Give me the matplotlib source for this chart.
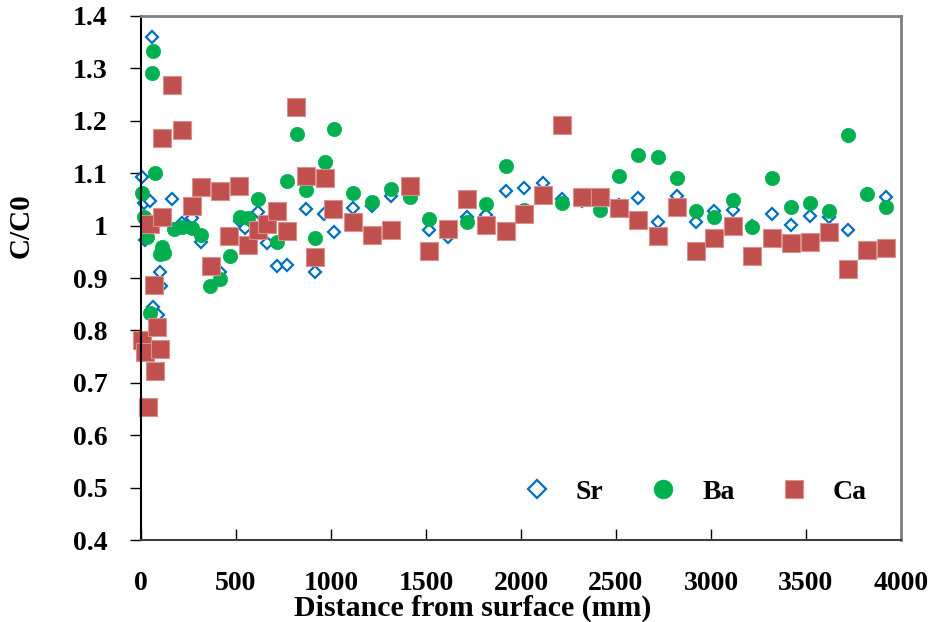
import matplotlib
matplotlib.use("Agg")
import matplotlib.pyplot as plt

plt.rcParams['font.family'] = ['Liberation Serif', 'DejaVu Serif']
plt.rcParams['font.weight'] = 'bold'

# distance from surface (mm) and C/C0
sr_x = [5, 14, 49, 58, 23, 102, 105, 65, 90, 165, 218, 267, 316, 416, 521, 547,
        616, 663, 714, 766, 867, 916, 965, 1016, 1117, 1217, 1316, 1416, 1518,
        1618, 1718, 1816, 1919, 2017, 2117, 2217, 2319, 2416, 2518, 2617, 2719,
        2819, 2919, 3017, 3117, 3217, 3319, 3419, 3521, 3621, 3719, 3819, 3921]
sr_y = [1.093, 1.044, 1.046, 1.36, 0.973, 0.911, 0.885, 0.844, 0.829, 1.050,
        1.005, 1.014, 0.969, 0.912, 1.009, 0.995, 1.025, 0.966, 0.923, 0.925,
        1.031, 0.911, 1.023, 0.988, 1.033, 1.038, 1.057, 1.06, 0.992, 0.979,
        1.017, 1.020, 1.066, 1.071, 1.081, 1.050, 1.046, 1.05, 1.04, 1.052,
        1.006, 1.057, 1.007, 1.027, 1.030, 1.0, 1.023, 1.002, 1.018, 1.017,
        0.992, 1.06, 1.054]

ba_x = [5, 14, 32, 49, 56, 65, 75, 102, 110, 120, 172, 216, 267, 316, 365, 416,
        467, 521, 565, 617, 714, 767, 819, 867, 916, 966, 1017, 1117, 1217,
        1316, 1416, 1518, 1618, 1718, 1816, 1919, 2017, 2117, 2217, 2319, 2416,
        2518, 2617, 2719, 2819, 2919, 3017, 3117, 3217, 3319, 3419, 3521, 3621,
        3719, 3819, 3921]
ba_y = [1.063, 1.016, 0.978, 0.834, 1.291, 1.333, 1.100, 0.946, 0.959, 0.947,
        0.994, 0.997, 0.996, 0.983, 0.885, 0.898, 0.942, 1.017, 1.014, 1.050,
        0.968, 1.086, 1.175, 1.068, 0.977, 1.121, 1.184, 1.062, 1.045, 1.070,
        1.055, 1.012, 0.99, 1.007, 1.041, 1.114, 1.03, 1.06, 1.043, 1.05,
        1.030, 1.095, 1.135, 1.130, 1.090, 1.028, 1.017, 1.048, 0.998, 1.091,
        1.036, 1.044, 1.028, 1.173, 1.060, 1.036]

ca_x = [5, 23, 35, 49, 66, 75, 87, 102, 110, 109, 165, 217, 267, 316, 367, 416,
        465, 516, 565, 617, 665, 714, 767, 814, 867, 916, 968, 1012, 1117, 1217,
        1316, 1416, 1518, 1618, 1718, 1816, 1919, 2017, 2117, 2217, 2319, 2416,
        2518, 2617, 2719, 2819, 2919, 3017, 3117, 3217, 3319, 3419, 3521, 3621,
        3719, 3819, 3921]
ca_y = [0.782, 0.759, 0.654, 1.004, 0.886, 0.723, 0.807, 0.765, 1.017, 1.168,
        1.268, 1.182, 1.037, 1.074, 0.923, 1.066, 0.981, 1.076, 0.963, 0.992,
        1.004, 1.027, 0.990, 1.226, 1.095, 0.941, 1.090, 1.032, 1.006, 0.982,
        0.992, 1.076, 0.952, 0.993, 1.051, 1.001, 0.990, 1.022, 1.058, 1.192,
        1.055, 1.055, 1.033, 1.011, 0.980, 1.036, 0.952, 0.977, 0.999, 0.942,
        0.977, 0.966, 0.969, 0.988, 0.917, 0.954, 0.958]

fig = plt.figure(figsize=(9.36, 6.22), dpi=100)
ax = fig.add_axes([0.1506, 0.1318, 0.8120, 0.8425])

ax.plot(sr_x, sr_y, linestyle='none', marker='D', markersize=6.6,
        markerfacecolor='white', markeredgecolor='#0070C0', markeredgewidth=1.6,
        label='Sr', clip_on=False)
ax.plot(ba_x, ba_y, linestyle='none', marker='o', markersize=10.3,
        markerfacecolor='#00B050', markeredgecolor='#00B050', markeredgewidth=0.5,
        label='Ba', clip_on=False)
ax.plot(ca_x, ca_y, linestyle='none', marker='s', markersize=13.5,
        markerfacecolor='#C0504D', markeredgecolor='#D9908E', markeredgewidth=0.8,
        label='Ca', clip_on=False)

ax.set_xlim(0, 4000)
ax.set_ylim(0.4, 1.4)
ax.set_xticks(range(0, 4001, 500))
ax.set_yticks([0.4, 0.5, 0.6, 0.7, 0.8, 0.9, 1.0, 1.1, 1.2, 1.3, 1.4])
ax.set_yticklabels(['0.4', '0.5', '0.6', '0.7', '0.8', '0.9', '1', '1.1', '1.2', '1.3', '1.4'])

ax.tick_params(axis='x', direction='in', length=8, width=1, pad=22, labelsize=20)
ax.tick_params(axis='y', direction='out', length=8, width=1, pad=16, labelsize=20)

for side in ['top', 'right']:
    ax.spines[side].set_color('#808080')
    ax.spines[side].set_linewidth(2)
ax.spines['left'].set_color('black')
ax.spines['left'].set_linewidth(1.5)
ax.spines['bottom'].set_color('#404040')
ax.spines['bottom'].set_linewidth(1.5)

ax.set_xlabel('Distance from surface (mm)', fontsize=21.5, fontweight='bold')
ax.xaxis.set_label_coords(0.436, -0.104)
ax.set_ylabel('C/C0', fontsize=21, fontweight='bold')
ax.yaxis.set_label_coords(-0.14, 0.60)

leg = ax.legend(loc='center', bbox_to_anchor=(0.729, 0.092), ncol=3, frameon=False,
                fontsize=20, handlelength=1.0, handletextpad=0.9, columnspacing=1.65,
                numpoints=1)
# legend symbols are drawn a little bigger than the plotted ones
for h, ms in zip(leg.legend_handles, [9.5, 13.5, 13.5]):
    h.set_markersize(ms)

fig.savefig('out.png', dpi=100)
